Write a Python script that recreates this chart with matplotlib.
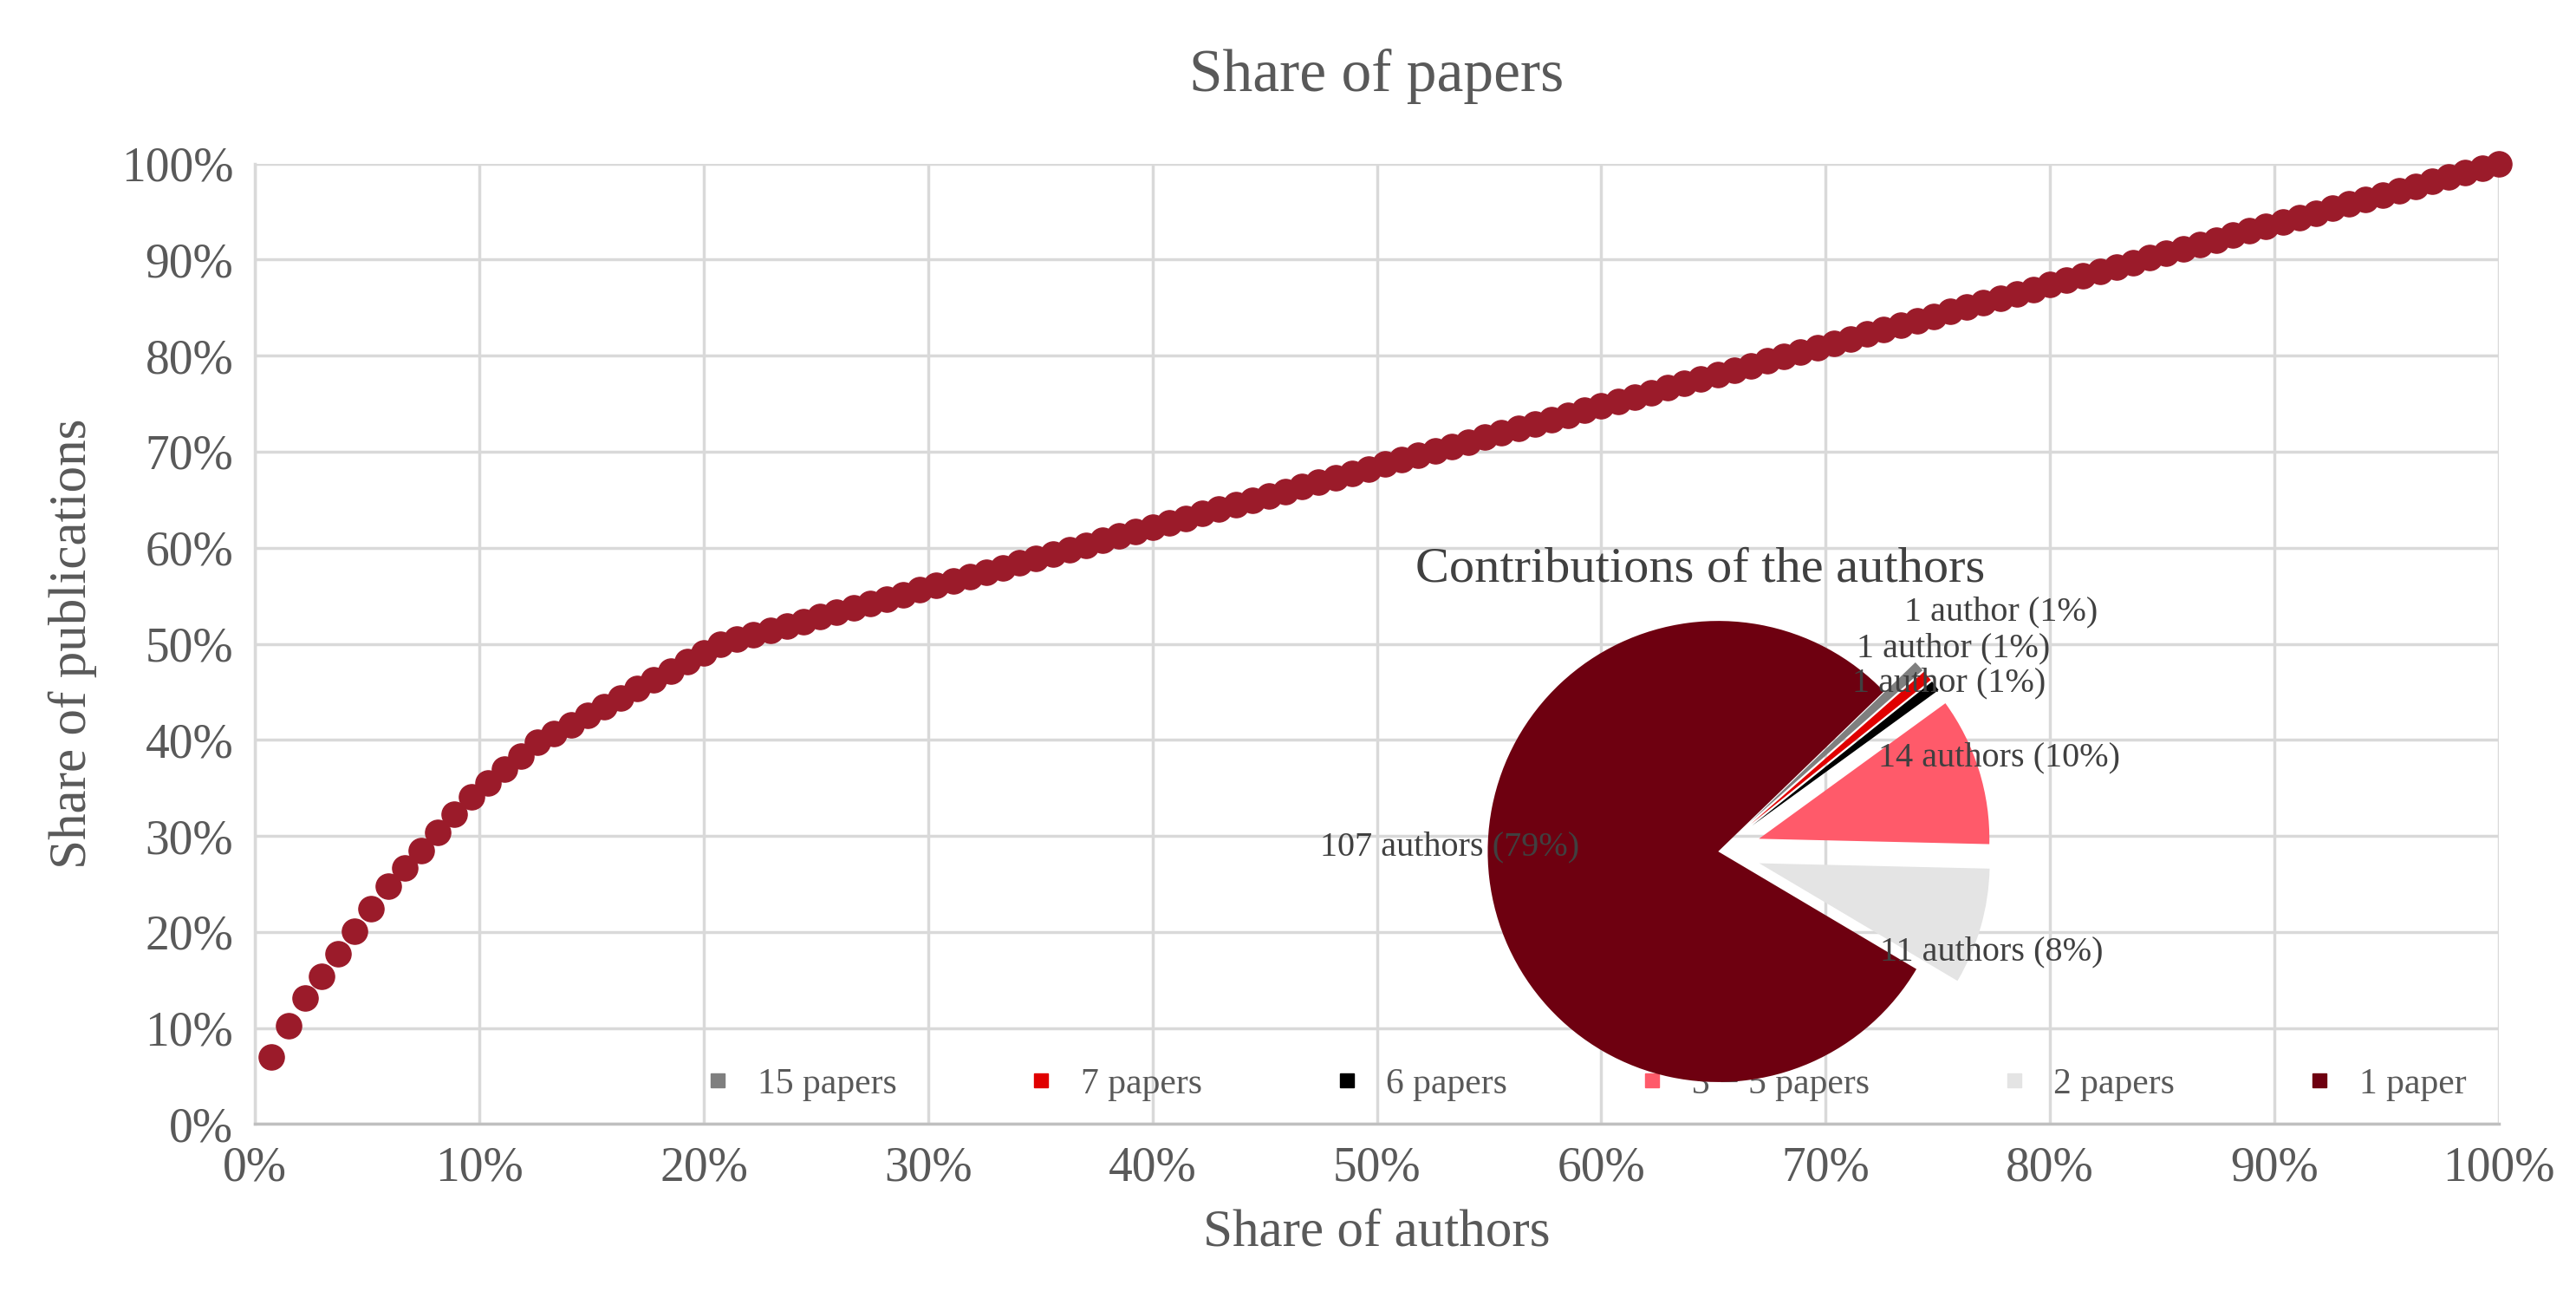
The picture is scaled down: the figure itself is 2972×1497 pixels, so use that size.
import numpy as np
import matplotlib.pyplot as plt
from matplotlib.ticker import PercentFormatter

plt.rcParams['font.family'] = ['Liberation Serif', 'DejaVu Serif']

# papers per author, sorted from most to fewest
papers = [15, 7, 6] + [5, 5, 5, 5, 5, 4, 4, 4, 4, 4, 3, 3, 3, 3] + [2] * 11 + [1] * 107

pie_labels = ['15 papers', '7 papers', '6 papers', '3 \u2212 5 papers', '2 papers', '1 paper']
pie_authors = [1, 1, 1, 14, 11, 107]
pie_text = ['1 author (1%)', '1 author (1%)', '1 author (1%)', '14 authors (10%)',
            '11 authors (8%)', '107 authors (79%)']
pie_colors = ['#7f7f7f', '#e00000', '#000000', '#ff5a6a', '#e4e4e4', '#6e0010']

papers = np.array(papers)
share_auth = np.arange(1, len(papers) + 1) / len(papers) * 100
share_pub = np.cumsum(papers) / papers.sum() * 100

fig = plt.figure(figsize=(29.72, 14.97), dpi=100)
ax = fig.add_axes([0.099, 0.134, 0.871, 0.74])
ax.plot(share_auth, share_pub, 'o', color='#9b1b2a', ms=21, clip_on=False, zorder=3)
ax.set_xlim(0, 100)
ax.set_ylim(0, 100)
ax.set_xticks(np.arange(0, 101, 10))
ax.set_yticks(np.arange(0, 101, 10))
ax.xaxis.set_major_formatter(PercentFormatter(decimals=0))
ax.yaxis.set_major_formatter(PercentFormatter(decimals=0))
ax.grid(color='#d9d9d9', lw=2.5)
ax.set_axisbelow(True)
for s in ['top', 'right']:
    ax.spines[s].set_visible(False)
ax.spines['left'].set_color('#d9d9d9')
ax.spines['bottom'].set_color('#bfbfbf')
ax.spines['left'].set_linewidth(2.5)
ax.spines['bottom'].set_linewidth(2.5)
ax.tick_params(labelsize=40, colors='#595959', length=0, pad=18)
ax.set_title('Share of papers', fontsize=50, color='#595959', pad=60)
ax.set_xlabel('Share of authors', fontsize=44, color='#595959', labelpad=15)
ax.set_ylabel('Share of publications', fontsize=44, color='#595959', labelpad=20)

# inset pie
pax = fig.add_axes([0.667 - 0.1077, 0.344 - 0.2138, 0.2154, 0.4276])
wedges, _ = pax.pie(pie_authors, colors=pie_colors, startangle=44, counterclock=False,
                    explode=[0.2, 0.2, 0.2, 0.2, 0.2, 0.0], radius=1.08)
pax.set_xlim(-1.3, 1.3)
pax.set_ylim(-1.3, 1.3)
pax.set_aspect('equal')
pos = [(0.87, 1.12), (0.65, 0.95), (0.63, 0.79), (0.75, 0.44), (0.76, -0.47), (-0.65, 0.02)]
for (x, y), t in zip(pos, pie_text):
    pax.text(x, y, t, fontsize=29, color='#404040', ha='right' if x < 0 else 'left', va='center')
fig.text(0.66, 0.552, 'Contributions of the authors', fontsize=42, color='#404040', ha='center')

handles = [plt.Line2D([], [], marker='s', ls='', color=c, ms=12) for c in pie_colors]
ax.legend(handles, pie_labels, loc='lower right', ncol=6, fontsize=30, frameon=False,
          labelcolor='#595959', handletextpad=0.1, columnspacing=3.0,
          bbox_to_anchor=(1.0, -0.01))

fig.savefig('out.png', dpi=100)
